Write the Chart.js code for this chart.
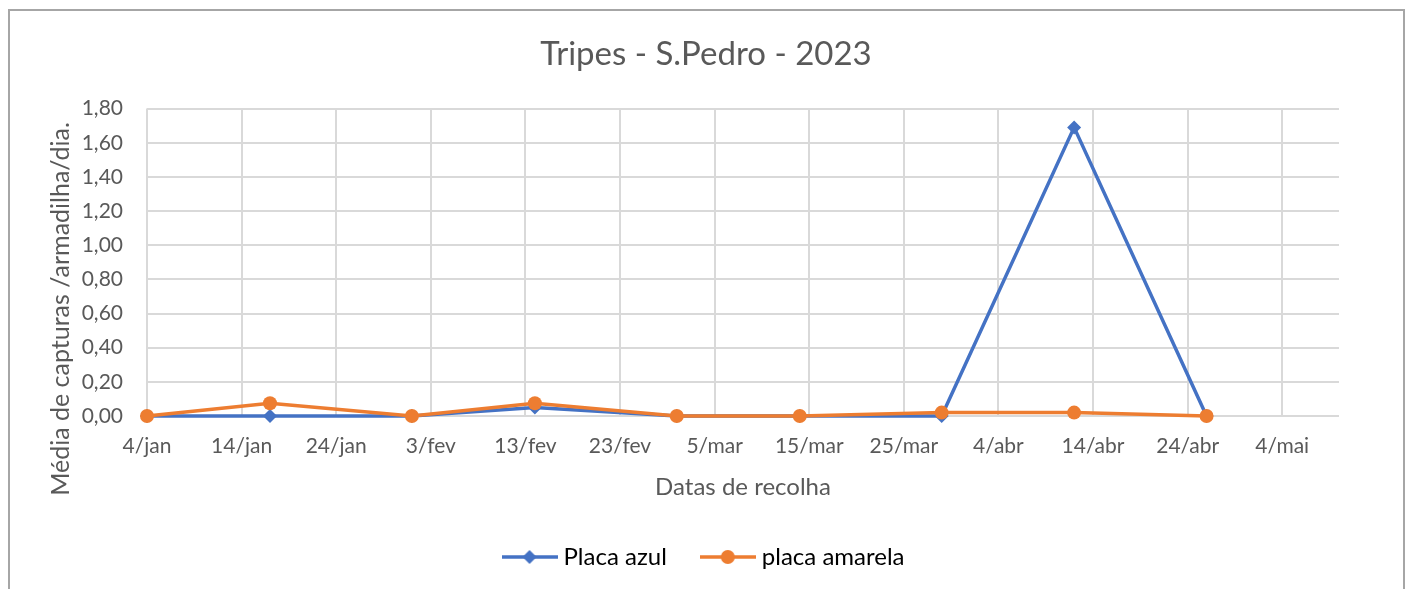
<!DOCTYPE html>
<html lang="pt">
<head>
    <meta charset="UTF-8">
    <title>Tripes - S.Pedro - 2023</title>
    <script src="https://cdn.jsdelivr.net/npm/chart.js"></script>
    <style>
        html, body {
            margin: 0;
            padding: 0;
            background: #fff;
            overflow: hidden;
        }
        .wrap {
            position: relative;
            width: 1408px;
            height: 589px;
        }
        /* frame round the chart, bottom edge is off the picture */
        .frame {
            position: absolute;
            left: 8px;
            top: 9px;
            width: 1393px;
            height: 620px;
            border: 2px solid #a6a6a6;
            border-bottom: none;
        }
        #chart {
            position: absolute;
            left: 0;
            top: 0;
        }
    </style>
</head>
<body>
    <div class="wrap">
        <div class="frame"></div>
        <canvas id="chart" width="1408" height="589"></canvas>
    </div>
    <script>
        // collection dates and averages per trap
        var collectDates = ['2023-01-04', '2023-01-17', '2023-02-01', '2023-02-14', '2023-03-01',
                            '2023-03-14', '2023-03-29', '2023-04-12', '2023-04-26'];
        var placaAzul    = [0, 0, 0, 0.05, 0, 0, 0, 1.69, 0];
        var placaAmarela = [0, 0.075, 0, 0.075, 0, 0, 0.02, 0.02, 0];
        var xTickLabels  = ['4/jan', '14/jan', '24/jan', '3/fev', '13/fev', '23/fev', '5/mar',
                            '15/mar', '25/mar', '4/abr', '14/abr', '24/abr', '4/mai'];
        var yTicks = [0, 0.2, 0.4, 0.6, 0.8, 1.0, 1.2, 1.4, 1.6, 1.8];
        var yTitle = 'Média de capturas /armadilha/dia.';

        // days counted from the first collection date
        var start = Date.parse(collectDates[0]);
        function dayOf(d) {
            return Math.round((Date.parse(d) - start) / 86400000);
        }
        var days = collectDates.map(dayOf);

        function toPoints(values) {
            return values.map(function(v, i) { return { x: days[i], y: v }; });
        }

        // little line + marker pictures for the legend
        function legendIcon(color, style) {
            var c = document.createElement('canvas');
            c.width = 56;
            c.height = 16;
            var g = c.getContext('2d');
            g.strokeStyle = color;
            g.lineWidth = 3.5;
            g.beginPath();
            g.moveTo(0, 8);
            g.lineTo(56, 8);
            g.stroke();
            g.fillStyle = color;
            g.beginPath();
            if (style === 'diamond') {
                g.moveTo(28, 1);
                g.lineTo(35, 8);
                g.lineTo(28, 15);
                g.lineTo(21, 8);
            } else {
                g.arc(28, 8, 7, 0, Math.PI * 2);
            }
            g.closePath();
            g.fill();
            return c;
        }
        var icons = [legendIcon('#4472c4', 'diamond'), legendIcon('#ed7d31', 'circle')];

        // the vertical title sits a bit lower than the plot centre in the original
        var yTitlePlugin = {
            id: 'yTitle',
            afterDraw: function(c) {
                var g = c.ctx;
                g.save();
                g.translate(61, 309);
                g.rotate(-Math.PI / 2);
                g.font = '25px Lato, "Open Sans", sans-serif';
                g.fillStyle = '#595959';
                g.textAlign = 'center';
                g.textBaseline = 'middle';
                g.fillText(yTitle, 0, 0);
                g.restore();
            }
        };

        Chart.defaults.font.family = 'Lato, "Open Sans", sans-serif';
        Chart.defaults.color = '#595959';

        var ctx = document.getElementById('chart').getContext('2d');
        var chart = new Chart(ctx, {
            type: 'line',
            data: {
                datasets: [{
                    label: 'Placa azul',
                    data: toPoints(placaAzul),
                    borderColor: '#4472c4',
                    backgroundColor: '#4472c4',
                    borderWidth: 3.5,
                    pointStyle: 'rectRot',
                    pointRadius: 7,
                    pointBorderWidth: 0,
                    pointHoverRadius: 7,
                    clip: false,
                    order: 1
                }, {
                    label: 'placa amarela',
                    data: toPoints(placaAmarela),
                    borderColor: '#ed7d31',
                    backgroundColor: '#ed7d31',
                    borderWidth: 3.5,
                    pointStyle: 'circle',
                    pointRadius: 7,
                    pointBorderWidth: 0,
                    pointHoverRadius: 7,
                    clip: false,
                    order: 0
                }]
            },
            plugins: [yTitlePlugin],
            options: {
                responsive: false,
                animation: false,
                layout: {
                    padding: { left: 8, right: 4, top: 0, bottom: 10 }
                },
                plugins: {
                    title: {
                        display: true,
                        text: 'Tripes - S.Pedro - 2023',
                        color: '#595959',
                        font: { size: 33, weight: 'normal' },
                        padding: { top: 35, bottom: 34 }
                    },
                    legend: {
                        position: 'bottom',
                        labels: {
                            color: '#000',
                            font: { size: 24 },
                            usePointStyle: true,
                            pointStyleWidth: 44,
                            padding: 39,
                            sort: function(a, b) { return a.datasetIndex - b.datasetIndex; },
                            generateLabels: function(c) {
                                var items = Chart.defaults.plugins.legend.labels.generateLabels(c);
                                items.forEach(function(it) { it.pointStyle = icons[it.datasetIndex]; });
                                return items;
                            }
                        }
                    },
                    tooltip: { enabled: false }
                },
                scales: {
                    x: {
                        type: 'linear',
                        min: 0,
                        max: 126,
                        afterFit: function(s) { s.height = 90; },
                        afterBuildTicks: function(s) {
                            s.ticks = xTickLabels.map(function(l, i) { return { value: i * 10 }; });
                        },
                        ticks: {
                            includeBounds: false,
                            color: '#595959',
                            font: { size: 21 },
                            padding: 18,
                            maxRotation: 0,
                            autoSkip: false,
                            callback: function(v) { return xTickLabels[Math.round(v / 10)]; }
                        },
                        grid: { color: '#d9d9d9', lineWidth: 2, drawTicks: false },
                        border: { display: false },
                        title: {
                            display: true,
                            text: 'Datas de recolha',
                            color: '#595959',
                            font: { size: 24 },
                            padding: { top: 4, bottom: 4 }
                        }
                    },
                    y: {
                        min: 0,
                        max: 1.8,
                        afterFit: function(s) { s.width = 139; },
                        afterBuildTicks: function(s) {
                            s.ticks = yTicks.map(function(v) { return { value: v }; });
                        },
                        ticks: {
                            color: '#595959',
                            font: { size: 21 },
                            padding: 24,
                            callback: function(v) { return v.toFixed(2).replace('.', ','); }
                        },
                        grid: { color: '#d9d9d9', lineWidth: 2, drawTicks: false },
                        border: { display: false }
                    },
                    // empty strip on the right so the plot stops where the original does
                    yRight: {
                        position: 'right',
                        display: true,
                        min: 0,
                        max: 1.8,
                        afterFit: function(s) { s.width = 65; },
                        ticks: { display: false },
                        grid: { display: false, drawTicks: false },
                        border: { display: false }
                    }
                }
            }
        });
    </script>
</body>
</html>
